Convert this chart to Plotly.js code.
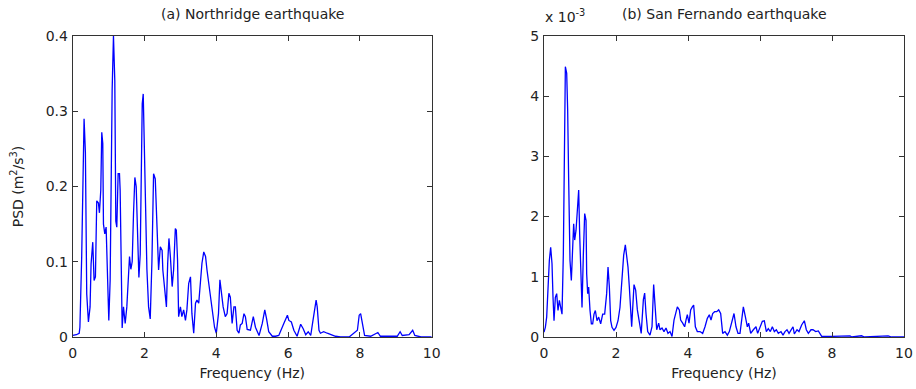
<!DOCTYPE html>
<html>
<head>
<meta charset="utf-8">
<script src="https://cdn.plot.ly/plotly-3.0.1.min.js"></script>
<style>html,body{margin:0;padding:0;background:#fff;}#chart{width:916px;height:389px;}</style>
</head>
<body>
<div id="chart"></div>
<script>
// (a) Northridge earthquake: frequency (Hz) and PSD (m^2/s^3)
const freqA = [0.0,0.1,0.18,0.2,0.25,0.278,0.316,0.353,0.372,0.39,0.437,0.483,0.511,0.558,0.595,0.632,0.669,0.716,0.744,0.781,0.809,0.837,0.856,0.893,0.93,0.949,0.977,1.005,1.042,1.07,1.098,1.135,1.172,1.2,1.228,1.265,1.302,1.321,1.349,1.377,1.414,1.461,1.507,1.554,1.582,1.619,1.656,1.694,1.731,1.768,1.805,1.843,1.88,1.908,1.936,1.964,1.992,2.029,2.066,2.113,2.159,2.206,2.252,2.299,2.345,2.392,2.44,2.49,2.51,2.55,2.61,2.645,2.68,2.72,2.77,2.81,2.858,2.886,2.92,2.95,3.0,3.04,3.09,3.14,3.18,3.23,3.28,3.32,3.37,3.42,3.46,3.51,3.56,3.6,3.65,3.7,3.74,3.79,3.84,3.88,3.95,4.0,4.06,4.1,4.14,4.19,4.25,4.3,4.35,4.39,4.44,4.49,4.53,4.58,4.63,4.67,4.72,4.77,4.81,4.86,4.95,5.03,5.09,5.19,5.28,5.35,5.4,5.46,5.56,5.65,5.74,5.81,5.88,5.98,6.02,6.09,6.16,6.25,6.35,6.42,6.49,6.56,6.63,6.68,6.72,6.78,6.81,6.86,6.9,6.99,7.09,7.18,7.32,7.46,7.7,7.93,7.98,8.02,8.07,8.13,8.3,8.44,8.5,8.57,9.04,9.12,9.18,9.37,9.47,9.53,9.7,10.0];
const psdA = [0.002,0.003,0.005,0.013,0.107,0.203,0.29,0.245,0.132,0.057,0.02,0.04,0.097,0.126,0.075,0.08,0.181,0.178,0.165,0.195,0.272,0.257,0.15,0.137,0.146,0.106,0.057,0.022,0.075,0.232,0.328,0.40,0.34,0.154,0.146,0.217,0.217,0.195,0.08,0.012,0.04,0.018,0.04,0.08,0.107,0.09,0.1,0.165,0.212,0.2,0.15,0.079,0.11,0.261,0.31,0.323,0.244,0.155,0.09,0.04,0.024,0.1,0.217,0.21,0.133,0.089,0.12,0.115,0.089,0.071,0.04,0.098,0.131,0.107,0.067,0.089,0.144,0.142,0.102,0.027,0.04,0.027,0.036,0.022,0.036,0.071,0.08,0.031,0.005,0.045,0.049,0.045,0.08,0.098,0.113,0.107,0.089,0.071,0.049,0.031,0.013,0.005,0.031,0.076,0.062,0.04,0.027,0.031,0.058,0.053,0.018,0.04,0.04,0.009,0.005,0.016,0.018,0.031,0.027,0.01,0.009,0.027,0.013,0.002,0.018,0.036,0.024,0.007,0.001,0.001,0.002,0.009,0.018,0.029,0.022,0.02,0.009,0.001,0.017,0.011,0.003,0.007,0.002,0.018,0.031,0.049,0.04,0.009,0.005,0.007,0.005,0.003,0.001,0.0,0.0,0.009,0.029,0.031,0.018,0.002,0.001,0.005,0.006,0.001,0.001,0.007,0.002,0.003,0.009,0.002,0.0,0.0];

// (b) San Fernando earthquake: frequency (Hz) and PSD in units of 1e-3 m^2/s^3
const freqB = [0.0,0.037,0.074,0.11,0.148,0.185,0.222,0.25,0.278,0.315,0.352,0.389,0.426,0.463,0.5,0.537,0.565,0.593,0.63,0.657,0.685,0.722,0.759,0.796,0.824,0.852,0.889,0.926,0.963,0.99,1.028,1.056,1.093,1.13,1.167,1.185,1.213,1.24,1.278,1.315,1.352,1.389,1.426,1.472,1.519,1.574,1.63,1.685,1.74,1.778,1.815,1.852,1.889,1.944,2.0,2.056,2.11,2.167,2.213,2.259,2.296,2.333,2.37,2.407,2.435,2.5,2.546,2.593,2.648,2.7,2.76,2.796,2.833,2.88,2.944,3.0,3.046,3.083,3.13,3.185,3.222,3.278,3.333,3.389,3.444,3.5,3.556,3.611,3.667,3.704,3.759,3.796,3.852,3.907,3.944,3.981,4.028,4.074,4.12,4.157,4.204,4.259,4.333,4.407,4.472,4.537,4.593,4.639,4.685,4.74,4.796,4.852,4.907,4.963,5.028,5.093,5.148,5.222,5.278,5.333,5.389,5.444,5.5,5.537,5.593,5.648,5.685,5.741,5.815,5.889,5.935,6.0,6.065,6.12,6.176,6.23,6.287,6.343,6.398,6.454,6.509,6.583,6.639,6.694,6.75,6.806,6.861,6.917,6.954,7.028,7.083,7.157,7.231,7.287,7.343,7.417,7.472,7.546,7.62,7.676,7.713,7.99,8.5,8.55,8.82,8.9,9.56,9.65,10.0];
const psdB_e3 = [0.08,0.16,0.33,0.83,1.27,1.49,1.22,0.66,0.27,0.66,0.72,0.44,0.61,0.49,0.38,1.38,2.83,4.49,4.38,3.77,2.61,1.27,0.94,1.49,1.88,1.61,1.77,2.1,2.44,1.72,1.16,0.49,1.38,2.05,1.94,1.05,0.72,0.83,0.44,0.22,0.22,0.38,0.44,0.27,0.33,0.22,0.38,0.38,0.72,1.16,0.83,0.27,0.16,0.11,0.16,0.27,0.49,0.99,1.36,1.53,1.38,1.16,0.83,0.49,0.17,0.87,0.78,0.45,0.23,0.06,0.62,0.73,0.39,0.09,0.03,0.17,0.87,0.5,0.12,0.23,0.12,0.15,0.09,0.15,0.06,0.09,0.01,0.28,0.45,0.5,0.45,0.28,0.23,0.17,0.28,0.37,0.23,0.45,0.5,0.53,0.17,0.09,0.09,0.06,0.17,0.31,0.37,0.28,0.39,0.42,0.42,0.45,0.39,0.06,0.09,0.03,0.09,0.28,0.39,0.17,0.06,0.06,0.28,0.5,0.34,0.17,0.23,0.06,0.12,0.17,0.06,0.17,0.26,0.27,0.09,0.14,0.09,0.17,0.09,0.12,0.06,0.09,0.03,0.09,0.12,0.06,0.12,0.17,0.05,0.12,0.09,0.2,0.27,0.12,0.06,0.12,0.12,0.09,0.1,0.05,0.01,0.01,0.02,0.0,0.02,0.0,0.02,0.0,0.0];

const xTicks = [0,2,4,6,8,10];
const yTicksA = [0,0.1,0.2,0.3,0.4];
const yTicksB = [0,1,2,3,4,5];

const FONT = 'DejaVu Sans, Arial, sans-serif';
const axisCommon = {
  showline: true, linecolor: '#333', linewidth: 1, mirror: 'ticks',
  ticks: 'inside', ticklen: 5, tickcolor: '#333', tickwidth: 1,
  showgrid: false, zeroline: false,
  tickfont: {family: FONT, size: 14, color: '#222'}
};

const traces = [
  {x: freqA, y: psdA, type: 'scatter', mode: 'lines', line: {color: '#0000ff', width: 1.3}, xaxis: 'x', yaxis: 'y', cliponaxis: true},
  {x: freqB, y: psdB_e3, type: 'scatter', mode: 'lines', line: {color: '#0000ff', width: 1.3}, xaxis: 'x2', yaxis: 'y2', cliponaxis: true}
];

const layout = {
  width: 916, height: 389,
  margin: {l: 0, r: 0, t: 0, b: 0},
  paper_bgcolor: '#fff', plot_bgcolor: '#fff',
  showlegend: false,
  font: {family: FONT, size: 14, color: '#222'},
  xaxis: Object.assign({}, axisCommon, {domain: [0.0794, 0.4713], range: [0, 10], tickvals: xTicks, anchor: 'y', ticklabelstandoff: 3,
    title: {text: 'Frequency (Hz)', font: {family: FONT, size: 14, color: '#222'}, standoff: 8}}),
  yaxis: Object.assign({}, axisCommon, {domain: [0.1337, 0.9075], range: [0, 0.4], tickvals: yTicksA, anchor: 'x', ticklabelstandoff: 1,
    title: {text: 'PSD (m<sup>2</sup>/s<sup>3</sup>)', font: {family: FONT, size: 14, color: '#222'}, standoff: 18}}),
  xaxis2: Object.assign({}, axisCommon, {domain: [0.5939, 0.9869], range: [0, 10], tickvals: xTicks, anchor: 'y2', ticklabelstandoff: 3,
    title: {text: 'Frequency (Hz)', font: {family: FONT, size: 14, color: '#222'}, standoff: 8}}),
  yaxis2: Object.assign({}, axisCommon, {domain: [0.1337, 0.9075], range: [0, 5], tickvals: yTicksB, anchor: 'x2', ticklabelstandoff: 1}),
  annotations: [
    {text: '(a) Northridge earthquake', xref: 'paper', yref: 'paper', x: 0.2753, y: 1 - 14/389, xanchor: 'center', yanchor: 'middle', showarrow: false, font: {family: FONT, size: 14, color: '#222'}},
    {text: '(b) San Fernando earthquake', xref: 'paper', yref: 'paper', x: 0.7904, y: 1 - 14/389, xanchor: 'center', yanchor: 'middle', showarrow: false, font: {family: FONT, size: 14, color: '#222'}},
    {text: 'x 10<sup>-3</sup>', xref: 'paper', yref: 'paper', x: 543/916, y: 1 - 16/389, xanchor: 'left', yanchor: 'middle', showarrow: false, font: {family: FONT, size: 14, color: '#222'}}
  ]
};

Plotly.newPlot('chart', traces, layout, {staticPlot: true, displayModeBar: false});
</script>
</body>
</html>
